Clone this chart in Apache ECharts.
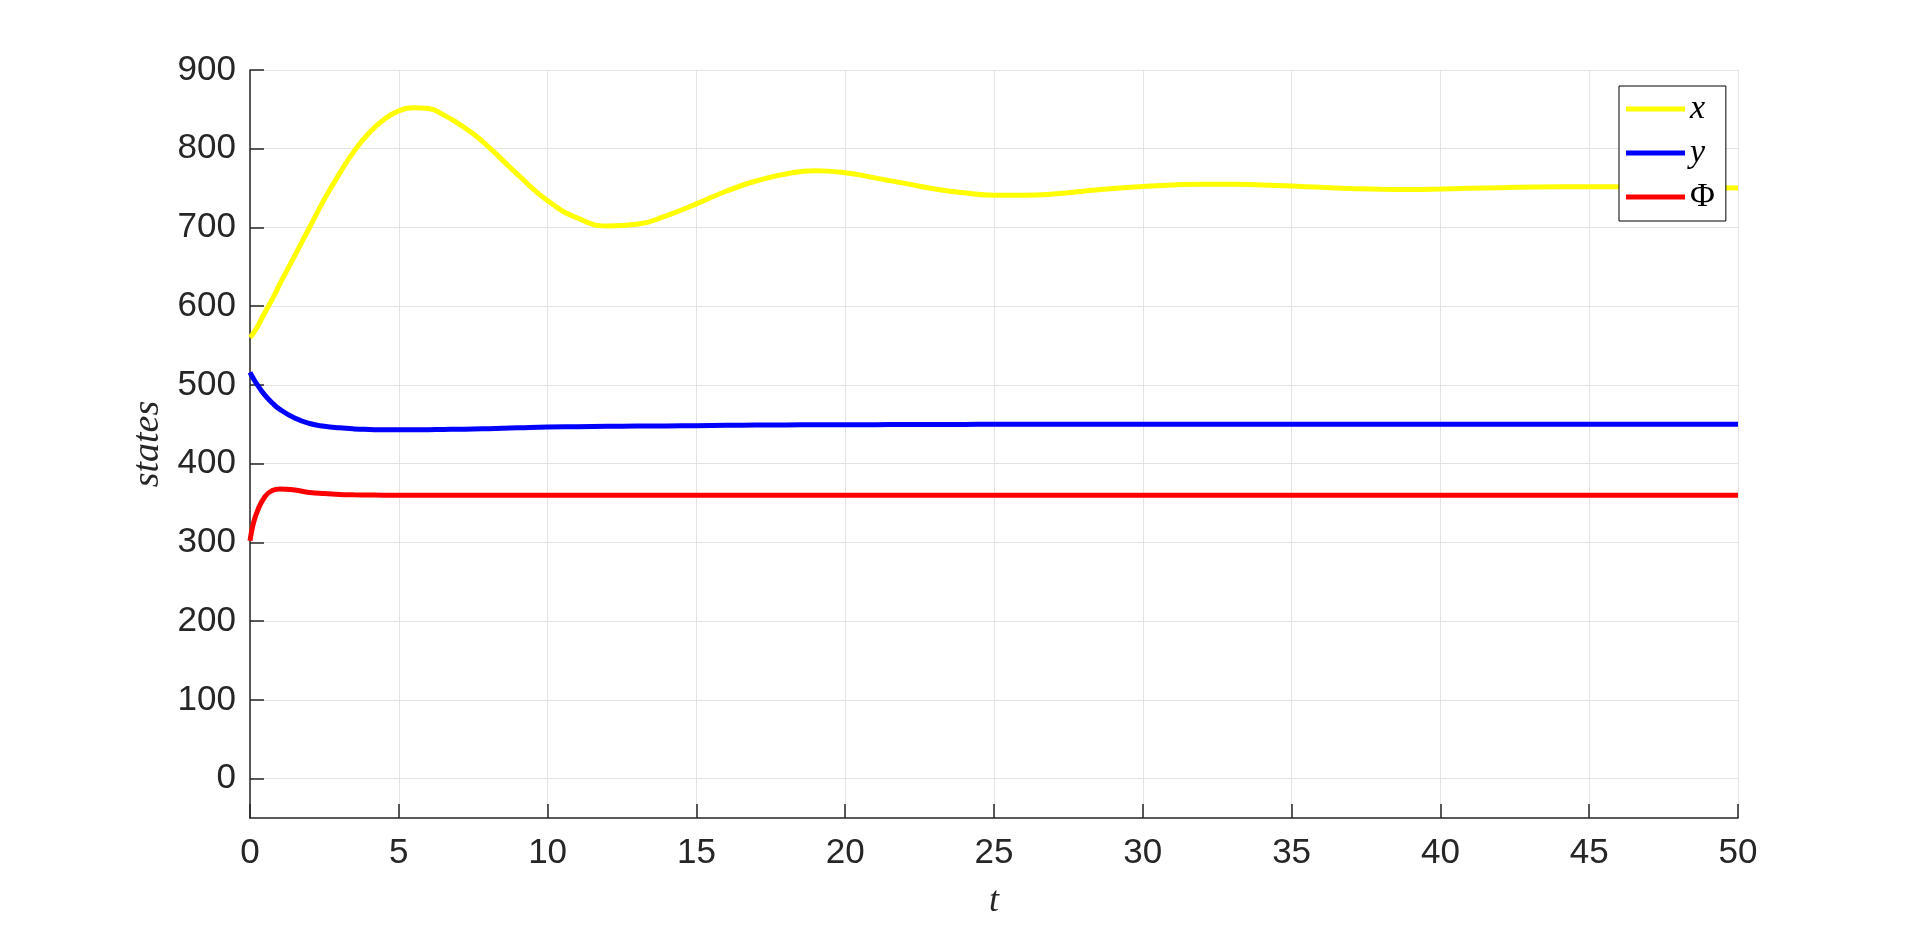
<!DOCTYPE html>
<html>
<head>
<meta charset="utf-8">
<title>states</title>
<script src="https://cdn.jsdelivr.net/npm/echarts@6/dist/echarts.min.js"></script>
<style>
    html, body { margin: 0; padding: 0; background: #fff; }
    #main { width: 1920px; height: 925px; }
</style>
</head>
<body>
<div id="main"></div>
<script>
// time samples (denser at the start where the curves move fast)
var tVals = [0, 0.1, 0.25, 0.5, 0.75, 1, 1.5, 2, 2.5, 3, 3.5, 4, 4.5, 5, 5.5, 6, 6.5, 7, 7.5, 8, 9, 10,
    11, 12, 13, 14, 15, 16, 17, 18, 19, 20, 21, 22, 23, 24, 25, 26, 27, 28, 29, 30,
    31, 32, 33, 34, 35, 36, 37, 38, 39, 40, 42, 44, 46, 48, 50];

// x (yellow)
var xVals = [560, 565, 574, 592, 609, 628, 664, 700, 736, 768, 797, 820, 837, 848, 852, 851, 843, 832, 819, 803, 767, 734,
    712, 702, 704, 715, 730, 746, 759, 768, 772, 769.5, 763, 756, 749, 744, 741, 741, 742.5, 746, 749.5, 752,
    754, 755, 755, 754, 752.7, 751, 749.5, 748.5, 748.3, 748.8, 750.5, 751.6, 751.8, 751, 750];

// y (blue)
var yVals = [516, 509, 500, 487, 477, 469, 458, 451, 447.5, 445.5, 444.2, 443.5, 443, 443, 443, 443.2, 443.5, 443.8, 444, 444.5, 445.5, 446.5,
    447, 447.5, 447.8, 448, 448.3, 448.7, 449, 449.2, 449.4, 449.5, 449.6, 449.7, 449.8, 449.9, 450, 450, 450, 450, 450, 450,
    450, 450, 450, 450, 450, 450, 450, 450, 450, 450, 450, 450, 450, 450, 450];

// Phi (red)
var phiVals = [302, 322, 340, 358, 366, 368, 366.5, 363.5, 362, 361, 360.5, 360.2, 360, 360, 360, 360, 360, 360, 360, 360, 360, 360,
    360, 360, 360, 360, 360, 360, 360, 360, 360, 360, 360, 360, 360, 360, 360, 360, 360, 360, 360, 360,
    360, 360, 360, 360, 360, 360, 360, 360, 360, 360, 360, 360, 360, 360, 360];

var yTicks = [0, 100, 200, 300, 400, 500, 600, 700, 800, 900];

var axisColor = '#262626';
var gridColor = '#e3e3e3';

function pairs(vals) {
    var out = [];
    for (var i = 0; i < tVals.length; i++) {
        out.push([tVals[i], vals[i]]);
    }
    return out;
}

function line(name, color, vals) {
    return {
        name: name,
        type: 'line',
        data: pairs(vals),
        showSymbol: false,
        smooth: 0.5,
        lineStyle: { color: color, width: 5 },
        itemStyle: { color: color }
    };
}

var myChart = echarts.init(document.getElementById('main'));
myChart.setOption({
    animation: false,
    backgroundColor: '#fff',
    grid: { left: 250, right: 182, top: 70, bottom: 103 },
    legend: {
        orient: 'vertical',
        left: 1619,
        top: 86,
        icon: 'rect',
        itemWidth: 59,
        itemHeight: 5,
        itemGap: 10,
        padding: [6, 11, 7, 7],
        backgroundColor: '#fff',
        borderColor: '#000',
        borderWidth: 1,
        borderRadius: 0,
        data: ['x', 'y', 'Φ'],
        formatter: function (name) {
            return name === 'Φ' ? '{n|Φ}' : '{i|' + name + '}';
        },
        textStyle: {
            color: '#000',
            fontSize: 34,
            fontFamily: 'Liberation Serif',
            rich: {
                i: { fontSize: 34, fontStyle: 'italic', fontFamily: 'Liberation Serif', color: '#000' },
                n: { fontSize: 34, fontFamily: 'Liberation Serif', color: '#000' }
            }
        }
    },
    xAxis: {
        type: 'value',
        min: 0,
        max: 50,
        interval: 5,
        name: 't',
        nameLocation: 'middle',
        nameGap: 66,
        nameTextStyle: { fontSize: 36, fontStyle: 'italic', fontFamily: 'Liberation Serif', color: axisColor },
        axisLine: { show: true, onZero: false, lineStyle: { color: axisColor, width: 1.5 } },
        axisTick: { show: true, inside: true, length: 14, lineStyle: { color: axisColor, width: 1.5 } },
        axisLabel: { fontSize: 35, fontFamily: 'Liberation Sans', color: axisColor, margin: 18 },
        splitLine: { show: true, lineStyle: { color: gridColor, width: 1 } }
    },
    yAxis: {
        type: 'value',
        min: -50,
        max: 900,
        name: 'states',
        nameLocation: 'middle',
        nameRotate: 90,
        nameGap: 82,
        nameTextStyle: { fontSize: 38, fontStyle: 'italic', fontFamily: 'Liberation Serif', color: axisColor },
        axisLine: { show: true, onZero: false, lineStyle: { color: axisColor, width: 1.5 } },
        axisTick: { show: true, inside: true, length: 14, customValues: yTicks, lineStyle: { color: axisColor, width: 1.5 } },
        axisLabel: { fontSize: 35, fontFamily: 'Liberation Sans', color: axisColor, margin: 14, customValues: yTicks },
        splitLine: { show: true, lineStyle: { color: gridColor, width: 1 } }
    },
    series: [
        line('x', '#ffff00', xVals),
        line('y', '#0000ff', yVals),
        line('Φ', '#ff0000', phiVals)
    ]
});
</script>
</body>
</html>
